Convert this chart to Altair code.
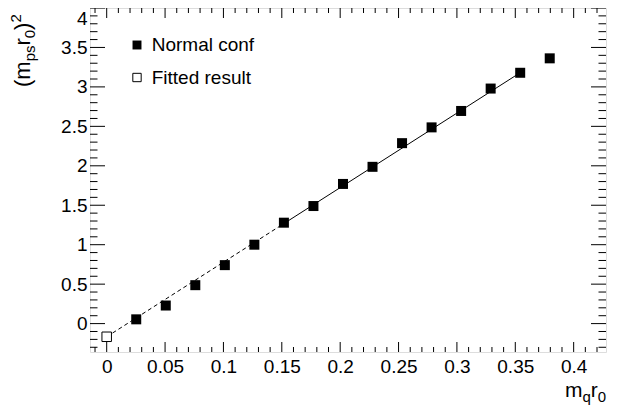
import altair as alt
import pandas as pd

# ---- data ----
mq_r0 = [0.0253, 0.0506, 0.0759, 0.1012, 0.1265, 0.1518, 0.1771, 0.2024,
         0.2277, 0.2530, 0.2783, 0.3036, 0.3289, 0.3542, 0.3795]
mps_r0_sq = [0.054, 0.229, 0.487, 0.741, 1.000, 1.279, 1.490, 1.770,
             1.987, 2.287, 2.487, 2.695, 2.979, 3.179, 3.362]

fit_x = [0.0]
fit_y = [-0.167]

# fitted straight line (dashed = extrapolation, solid = fit range)
dash_x = [0.0, 0.1518]
dash_y = [-0.167, 1.268]
solid_x = [0.1518, 0.3542]
solid_y = [1.268, 3.180]

x_major = [0, 0.05, 0.1, 0.15, 0.2, 0.25, 0.3, 0.35, 0.4]
y_major = [0, 0.5, 1, 1.5, 2, 2.5, 3, 3.5, 4]
x_minor = [round(-0.01 + 0.01 * i, 2) for i in range(44)]
x_minor = [v for v in x_minor if round(v * 100) % 5 != 0]
y_minor = [round(-0.3 + 0.1 * i, 1) for i in range(44)]
y_minor = [v for v in y_minor if round(v * 10) % 5 != 0]

legend_labels = ["Normal conf", "Fitted result"]
ytitle_parts = ["(m", "ps", "r", "0", ")", "2"]
xtitle_parts = ["m", "q", "r", "0"]

W, H = 516, 344
FONT = "Liberation Sans"
xdom = [-0.0143, 0.4277]
ydom = [-0.36, 4.0]

xs = alt.Scale(domain=xdom, nice=False, zero=False)
ys = alt.Scale(domain=ydom, nice=False, zero=False)

pts = pd.DataFrame({"x": mq_r0, "y": mps_r0_sq})
fit = pd.DataFrame({"x": fit_x, "y": fit_y})
dash = pd.DataFrame({"x": dash_x, "y": dash_y})
solid = pd.DataFrame({"x": solid_x, "y": solid_y})

X = alt.X("x:Q", scale=xs, axis=alt.Axis(values=x_major, format="~g", ticks=False, domain=False,
                                          grid=False, labelFontSize=19, labelPadding=5,
                                          labelFlush=False, labelBound=False,
                                          labelColor="black", labelFont=FONT, title=None))
Y = alt.Y("y:Q", scale=ys, axis=alt.Axis(values=y_major, format="~g", ticks=False, domain=False,
                                          grid=False, labelFontSize=19, labelPadding=3,
                                          labelFlush=False, labelBound=False,
                                          labelBaseline=alt.expr("datum.value >= 4 ? 'top' : 'middle'"),
                                          labelOffset=alt.expr("datum.value >= 4 ? 1 : 0"),
                                          labelColor="black", labelFont=FONT, title=None))

dash_line = alt.Chart(dash).mark_line(color="black", strokeWidth=1, strokeDash=[4, 3]).encode(x=X, y=Y)
solid_line = alt.Chart(solid).mark_line(color="black", strokeWidth=1).encode(x=X, y=Y)
points = alt.Chart(pts).mark_point(shape="square", filled=True, color="black", size=100,
                                   opacity=1).encode(x=X, y=Y)
fitted = alt.Chart(fit).mark_point(shape="square", filled=False, color="black", fill="white",
                                   size=90, strokeWidth=1, opacity=1).encode(x=X, y=Y)


def ticks(vals, orient, length):
    df = pd.DataFrame({"v": vals})
    base = alt.Chart(df).mark_rule(color="black", strokeWidth=1)
    if orient == "bottom":
        return base.encode(x=alt.X("v:Q", scale=xs), y=alt.value(H), y2=alt.value(H - length))
    if orient == "top":
        return base.encode(x=alt.X("v:Q", scale=xs), y=alt.value(0), y2=alt.value(length))
    if orient == "left":
        return base.encode(y=alt.Y("v:Q", scale=ys), x=alt.value(0), x2=alt.value(length))
    return base.encode(y=alt.Y("v:Q", scale=ys), x=alt.value(W), x2=alt.value(W - length))


tick_layers = [
    ticks(x_major, "bottom", 10), ticks(x_minor, "bottom", 5),
    ticks(x_major, "top", 10), ticks(x_minor, "top", 5),
    ticks(y_major, "left", 15), ticks(y_minor, "left", 7.5),
    ticks(y_major, "right", 15), ticks(y_minor, "right", 7.5),
]


def txt(s, x, y, size, angle=0, align="left", baseline="alphabetic"):
    return alt.Chart(pd.DataFrame({"t": [s]})).mark_text(
        font=FONT, fontSize=size, color="black", align=align, baseline=baseline, angle=angle
    ).encode(text="t:N", x=alt.value(x), y=alt.value(y))


one = pd.DataFrame({"k": [0]})
leg_sq1 = alt.Chart(one).mark_point(shape="square", filled=True, color="black", size=80,
                                    opacity=1).encode(x=alt.value(47), y=alt.value(37))
leg_sq2 = alt.Chart(one).mark_point(shape="square", filled=False, color="black", fill="white",
                                    size=70, strokeWidth=1, opacity=1).encode(x=alt.value(47), y=alt.value(69.5))
leg_t1 = txt(legend_labels[0], 61.7, 37, 19, baseline="middle")
leg_t2 = txt(legend_labels[1], 61.7, 69.5, 19, baseline="middle")

# y title, rotated, reading upward
ym, ysub = 22, 15
ybase, ysubb, ysupb = -60, -55.5, -69.5
y0 = 79
seg = [25.7, 15.8, 7.3, 8.3, 7.3]
yt = [
    txt(ytitle_parts[0], ybase, y0, ym, angle=270),
    txt(ytitle_parts[1], ysubb, y0 - sum(seg[:1]), ysub, angle=270),
    txt(ytitle_parts[2], ybase, y0 - sum(seg[:2]), ym, angle=270),
    txt(ytitle_parts[3], ysubb, y0 - sum(seg[:3]), ysub, angle=270),
    txt(ytitle_parts[4], ybase, y0 - sum(seg[:4]), ym, angle=270),
    txt(ytitle_parts[5], ysupb, y0 - sum(seg[:5]), ysub, angle=270),
]

# x title
xm, xsub = 21, 15
xt = [
    txt(xtitle_parts[0], 475, 388.5, xm),
    txt(xtitle_parts[1], 475 + 17.5, 394, xsub),
    txt(xtitle_parts[2], 475 + 17.5 + 8.3, 388.5, xm),
    txt(xtitle_parts[3], 475 + 17.5 + 8.3 + 7.0, 394, xsub),
]

chart = alt.layer(
    dash_line, solid_line, points, fitted, *tick_layers,
    leg_sq1, leg_sq2, leg_t1, leg_t2, *yt, *xt
).properties(
    width=W, height=H,
    padding={"left": 82, "top": 0, "right": 14, "bottom": 57},
    autosize=alt.AutoSizeParams(type="none"),
    background="white",
).configure_view(stroke="black", strokeWidth=1.5).configure(font=FONT)

chart.save("out.html", embed_options={"renderer": "svg", "actions": False})
